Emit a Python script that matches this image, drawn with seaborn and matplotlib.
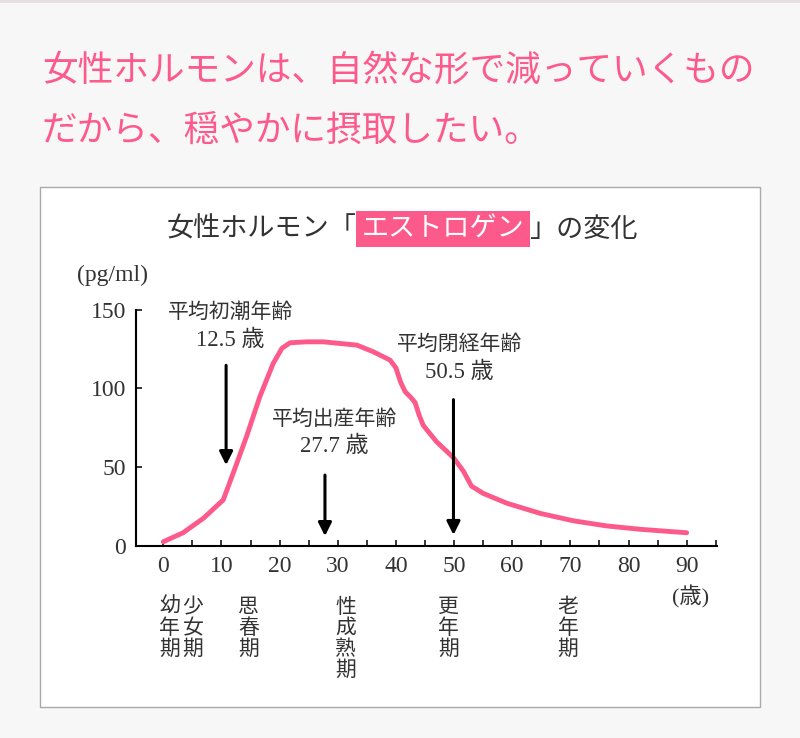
import matplotlib
matplotlib.use("Agg")
import matplotlib.pyplot as plt
import seaborn as sns
import pandas as pd
from matplotlib.patches import Rectangle

# ---------------- data ----------------
heading_lines = ["女性ホルモンは、自然な形で減っていくもの",
                 "だから、穏やかに摂取したい。"]
title_parts = ["女性ホルモン「", "エストロゲン", "」の変化"]

age = [0.0, 3.4, 6.9, 10.3, 12.0, 14.3, 16.6, 18.9, 20.4, 21.8, 24.7, 27.5,
       33.3, 36.1, 39.0, 40.0, 40.8, 41.6, 42.5, 43.3, 44.0, 44.7, 47.0,
       49.9, 51.6, 53.0, 55.0, 59.1, 64.8, 70.5, 76.3, 82.0, 90.0]
estrogen = [2.7, 8.4, 17.6, 29.2, 46.0, 69.3, 94.7, 115.8, 125.4, 128.9,
            129.5, 129.5, 127.4, 123.2, 117.9, 113.0, 104.0, 97.8, 94.5, 91.0,
            83.0, 76.5, 66.1, 56.0, 47.5, 38.0, 33.4, 27.1, 20.7, 16.0, 12.7,
            10.6, 8.4]

x_ticks = [0, 10, 20, 30, 40, 50, 60, 70, 80, 90]
x_minor = [5, 15, 25, 35, 45, 55, 65, 75, 85, 95]
y_ticks = [0, 50, 100, 150]

event_names = ["平均初潮年齢", "平均出産年齢", "平均閉経年齢"]
event_ages = ["12.5 歳", "27.7 歳", "50.5 歳"]
arrow_x = [10.8, 27.8, 49.9]
arrow_top = [114.6, 45.0, 92.8]
arrow_tip = [51.3, 6.3, 7.0]

stages = ["幼年期", "少女期", "思春期", "性成熟期", "更年期", "老年期"]
stage_x = [1.1, 5.1, 14.7, 31.4, 49.1, 69.6]

unit_y = "(pg/ml)"
unit_x = "(歳)"

# ---------------- style ----------------
PINK = "#fd5a8c"
TXT = "#333333"
sns.set_theme(style="ticks")
plt.rcParams["font.family"] = ["Liberation Serif", "Noto Sans CJK JP", "DejaVu Sans"]

W, H = 800, 738
fig = plt.figure(figsize=(W / 100, H / 100), dpi=100, facecolor="#f7f7f7")

def fx(px):
    return px / W

def fy(py):
    return 1 - py / H

# top thin border
fig.patches.append(Rectangle((0, fy(3)), 1, 3 / H, transform=fig.transFigure,
                             facecolor="#e8e1e3", edgecolor="none", zorder=-2))
# white card
fig.patches.append(Rectangle((fx(40), fy(707)), fx(720), 520 / H,
                             transform=fig.transFigure, facecolor="white",
                             edgecolor="#a9a9a9", lw=1, zorder=-1))

# heading
for i, line in enumerate(heading_lines):
    fig.text(fx(42), fy(71 + 60 * i), line, ha="left", va="center",
             fontsize=25.7, color=PINK, family=["Noto Sans CJK JP"])

# chart title
ty = fy(229)
fig.patches.append(Rectangle((fx(356), fy(247)), fx(174), 36 / H,
                             transform=fig.transFigure, facecolor=PINK,
                             edgecolor="none", zorder=0))
fig.text(fx(357), ty, title_parts[0], ha="right", va="center", fontsize=19.5,
         color=TXT, family=["Noto Sans CJK JP"])
fig.text(fx(443), ty, title_parts[1], ha="center", va="center", fontsize=19.5,
         color="white", family=["Noto Sans CJK JP"], zorder=3)
fig.text(fx(529), ty, title_parts[2], ha="left", va="center", fontsize=19.5,
         color=TXT, family=["Noto Sans CJK JP"])

# axes
x0, x1 = -4.7, 95.2
px0 = 163.3 + x0 * 5.815
px1 = 163.3 + x1 * 5.815
ax = fig.add_axes([fx(px0), fy(546), fx(px1 - px0), (546 - 309.5) / H])
ax.patch.set_alpha(0)

df = pd.DataFrame({"age": age, "estrogen": estrogen})
sns.lineplot(data=df, x="age", y="estrogen", ax=ax, color=PINK, linewidth=3.5,
             solid_capstyle="round", solid_joinstyle="round")

ax.set_xlim(x0, x1)
ax.set_ylim(0, 150)
ax.set_xticks(x_ticks)
ax.set_xticks(x_minor, minor=True)
ax.set_xticklabels([str(v) for v in x_ticks])
ax.set_yticks(y_ticks)
ax.set_yticklabels([str(v) for v in y_ticks])
ax.set_xlabel("")
ax.set_ylabel("")
for s in ["top", "right"]:
    ax.spines[s].set_visible(False)
for s in ["left", "bottom"]:
    ax.spines[s].set_linewidth(1.5)
    ax.spines[s].set_color("black")
ax.tick_params(which="both", direction="in", length=4, width=1.1,
               color="black", labelsize=17, labelcolor=TXT, pad=7)
ax.tick_params(axis="x", which="minor", labelbottom=False)

# arrows and event labels
label_cfg = [(11.5, 147.7, 130.6), (29.4, 79.9, 63.4), (50.9, 127.5, 110.3)]
for i in range(3):
    ax.annotate("", xy=(arrow_x[i], arrow_tip[i]), xytext=(arrow_x[i], arrow_top[i]),
                arrowprops=dict(arrowstyle="-|>,head_length=0.8,head_width=0.4",
                                color="black", lw=2.2, mutation_scale=10,
                                shrinkA=0, shrinkB=0))
    lx, ly1, ly2 = label_cfg[i]
    ax.text(lx, ly1, event_names[i], ha="center", va="center", fontsize=15,
            color=TXT, clip_on=False)
    ax.text(lx, ly2, event_ages[i], ha="center", va="center", fontsize=16.5,
            color=TXT, clip_on=False)

# stage labels (vertical)
trans = ax.get_xaxis_transform()
rows = [607, 628, 649, 670]
for name, sx in zip(stages, stage_x):
    for j, ch in enumerate(name):
        ax.text(sx, (546 - rows[j]) / 236.5, ch, transform=trans, ha="center",
                va="center", fontsize=15, color=TXT, clip_on=False,
                family=["Noto Sans CJK JP"])

ax.text(90.6, (546 - 597) / 236.5, unit_x, transform=trans, ha="center",
        va="center", fontsize=16, color=TXT, clip_on=False)
fig.text(fx(113), fy(275), unit_y, ha="center", va="center", fontsize=17,
         color=TXT)

fig.savefig("out.png", dpi=100, facecolor=fig.get_facecolor())
